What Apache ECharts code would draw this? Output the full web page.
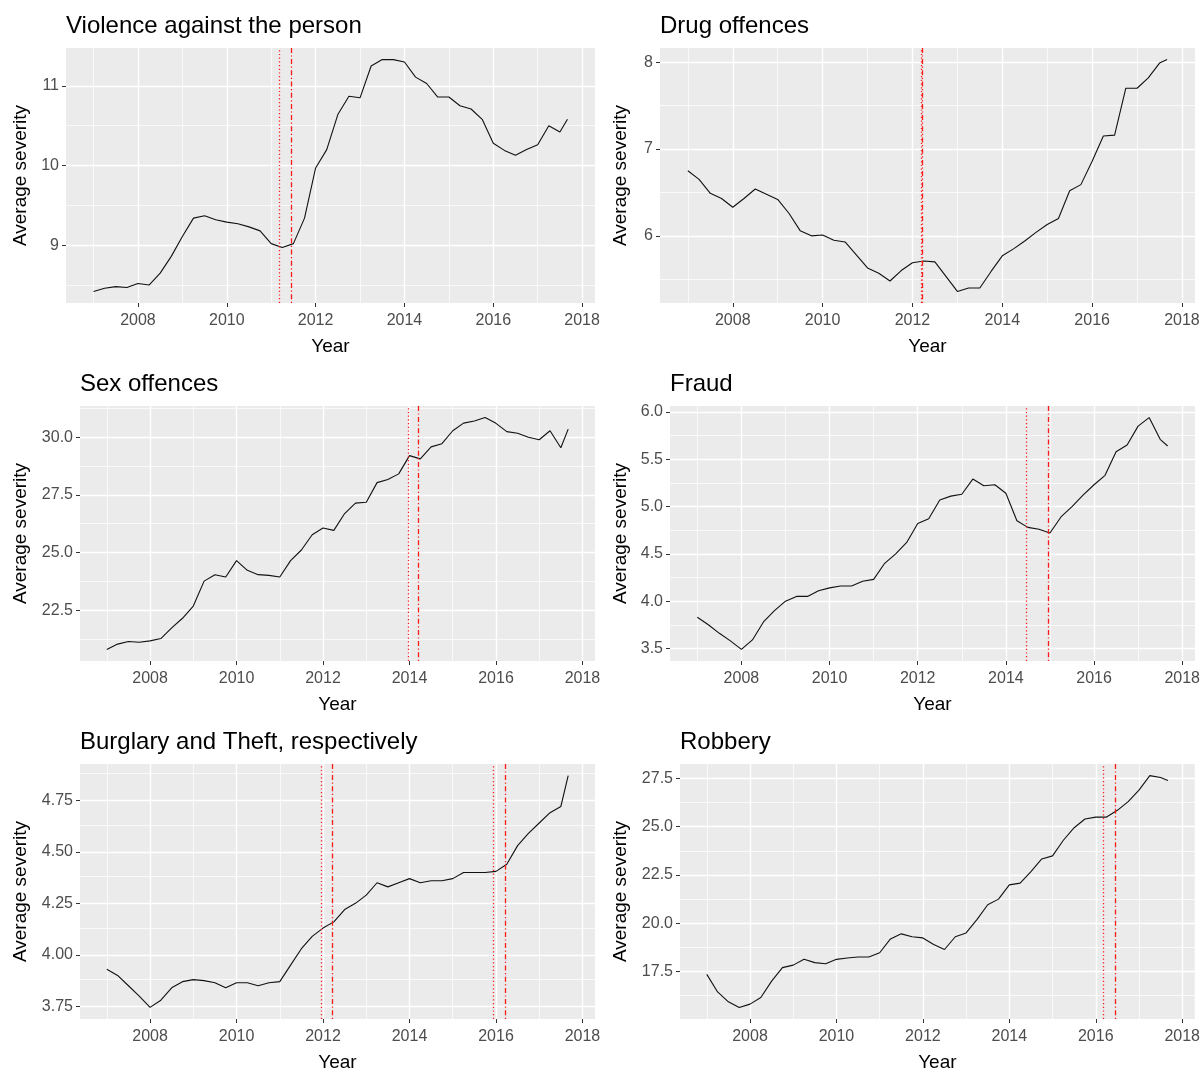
<!DOCTYPE html>
<html>
<head>
<meta charset="utf-8">
<title>Average severity</title>
<script src="https://cdn.jsdelivr.net/npm/echarts@6/dist/echarts.min.js"></script>
<style>
  html, body { margin: 0; padding: 0; background: #fff; }
  #main { width: 1203px; height: 1073px; }
</style>
</head>
<body>
<div id="main"></div>
<script>
// time axis (quarterly readings, last point Sep 2017)
const years = [2007, 2007.25, 2007.5, 2007.75, 2008, 2008.25, 2008.5, 2008.75,
  2009, 2009.25, 2009.5, 2009.75, 2010, 2010.25, 2010.5, 2010.75,
  2011, 2011.25, 2011.5, 2011.75, 2012, 2012.25, 2012.5, 2012.75,
  2013, 2013.25, 2013.5, 2013.75, 2014, 2014.25, 2014.5, 2014.75,
  2015, 2015.25, 2015.5, 2015.75, 2016, 2016.25, 2016.5, 2016.75,
  2017, 2017.25, 2017.5, 2017.67]

const violence = [8.42, 8.46, 8.48, 8.47, 8.52, 8.50, 8.65, 8.86, 9.11, 9.34, 9.37, 9.32,
  9.29, 9.27, 9.23, 9.18, 9.02, 8.97, 9.02, 9.34, 9.97, 10.2, 10.64, 10.87,
  10.85, 11.25, 11.33, 11.33, 11.30, 11.11, 11.03, 10.86, 10.86, 10.75, 10.71, 10.58,
  10.28, 10.19, 10.13, 10.2, 10.26, 10.50, 10.42, 10.58]
const drug = [6.75, 6.65, 6.49, 6.43, 6.33, 6.43, 6.54, 6.48, 6.42, 6.26, 6.06, 6.0,
  6.01, 5.95, 5.93, 5.78, 5.63, 5.57, 5.48, 5.6, 5.69, 5.71, 5.70, 5.53,
  5.36, 5.40, 5.40, 5.59, 5.77, 5.85, 5.94, 6.04, 6.13, 6.20, 6.52, 6.59,
  6.86, 7.15, 7.16, 7.70, 7.70, 7.82, 7.99, 8.03]
const sex = [20.80, 21.03, 21.14, 21.11, 21.17, 21.27, 21.73, 22.15, 22.68, 23.76, 24.04, 23.94,
  24.65, 24.23, 24.04, 24.01, 23.94, 24.65, 25.11, 25.77, 26.06, 25.96, 26.69, 27.14,
  27.18, 28.03, 28.17, 28.41, 29.2, 29.06, 29.58, 29.72, 30.28, 30.61, 30.7, 30.85,
  30.6, 30.24, 30.17, 30.0, 29.89, 30.28, 29.54, 30.35]
const fraud = [3.83, 3.75, 3.66, 3.58, 3.49, 3.59, 3.78, 3.90, 4.0, 4.05, 4.05, 4.11,
  4.14, 4.16, 4.16, 4.21, 4.23, 4.40, 4.50, 4.62, 4.82, 4.87, 5.07, 5.11,
  5.13, 5.29, 5.22, 5.23, 5.14, 4.85, 4.78, 4.76, 4.72, 4.89, 5.0, 5.12,
  5.23, 5.33, 5.58, 5.65, 5.85, 5.94, 5.71, 5.64]
const burglary = [3.93, 3.90, 3.85, 3.80, 3.745, 3.78, 3.84, 3.87, 3.88, 3.875, 3.865, 3.84,
  3.865, 3.865, 3.85, 3.865, 3.87, 3.95, 4.03, 4.09, 4.13, 4.16, 4.22, 4.25,
  4.29, 4.35, 4.33, 4.35, 4.37, 4.35, 4.36, 4.36, 4.37, 4.40, 4.40, 4.40,
  4.405, 4.44, 4.53, 4.59, 4.64, 4.69, 4.72, 4.87]
const robbery = [17.35, 16.44, 15.93, 15.64, 15.81, 16.15, 17.0, 17.7, 17.83, 18.13, 17.96, 17.9,
  18.13, 18.2, 18.25, 18.25, 18.47, 19.19, 19.45, 19.3, 19.24, 18.9, 18.64, 19.3,
  19.5, 20.19, 20.96, 21.25, 21.99, 22.08, 22.68, 23.33, 23.49, 24.3, 24.95, 25.4,
  25.5, 25.5, 25.85, 26.3, 26.9, 27.65, 27.55, 27.4]

// tick labels
const xTicks = [2008, 2010, 2012, 2014, 2016, 2018]
const violenceTicks = [9, 10, 11]
const drugTicks = [6, 7, 8]
const sexTicks = [22.5, 25, 27.5, 30]
const fraudTicks = [3.5, 4, 4.5, 5, 5.5, 6]
const burglaryTicks = [3.75, 4, 4.25, 4.5, 4.75]
const robberyTicks = [17.5, 20, 22.5, 25, 27.5]

// break dates: dotted and dot-dash red lines
const violenceBreaks = { dotted: [2011.17], dotdash: [2011.46] }
const drugBreaks = { dotted: [2012.2], dotdash: [2012.21] }
const sexBreaks = { dotted: [2013.96], dotdash: [2014.21] }
const fraudBreaks = { dotted: [2014.46], dotdash: [2014.97] }
const burglaryBreaks = { dotted: [2011.97, 2015.94], dotdash: [2012.21, 2016.22] }
const robberyBreaks = { dotted: [2016.17], dotdash: [2016.45] }

const panels = [
  { title: 'Violence against the person', values: violence, ticks: violenceTicks, digits: 0, breaks: violenceBreaks, box: [66, 48, 529, 255] },
  { title: 'Drug offences', values: drug, ticks: drugTicks, digits: 0, breaks: drugBreaks, box: [660, 48, 535, 255] },
  { title: 'Sex offences', values: sex, ticks: sexTicks, digits: 1, breaks: sexBreaks, box: [80, 406, 515, 255] },
  { title: 'Fraud', values: fraud, ticks: fraudTicks, digits: 1, breaks: fraudBreaks, box: [670, 406, 525, 255] },
  { title: 'Burglary and Theft, respectively', values: burglary, ticks: burglaryTicks, digits: 2, breaks: burglaryBreaks, box: [80, 764, 515, 255] },
  { title: 'Robbery', values: robbery, ticks: robberyTicks, digits: 1, breaks: robberyBreaks, box: [680, 764, 515, 255] }
]

const FONT = '"Liberation Sans", Arial, Helvetica, sans-serif'
const X_MIN = 2006.38
const X_MAX = 2018.29
const RED = '#ff1a1a'

// minor breaks halfway between the major ones, like ggplot
function minorOf(ticks, lo, hi) {
  const step = ticks[1] - ticks[0]
  const out = [ticks[0] - step / 2]
  ticks.forEach(t => out.push(t + step / 2))
  return out.filter(v => v > lo && v < hi)
}

const grids = []
const xAxes = []
const yAxes = []
const titles = []
const series = []

panels.forEach((p, i) => {
  const [left, top, width, height] = p.box
  const lo0 = Math.min(...p.values)
  const hi0 = Math.max(...p.values)
  const pad = (hi0 - lo0) * 0.05
  const yMin = lo0 - pad
  const yMax = hi0 + pad

  grids.push({
    left: left, top: top, width: width, height: height,
    show: true, backgroundColor: '#EBEBEB', borderWidth: 0
  })

  titles.push({
    text: p.title,
    left: left,
    top: top - 34,
    padding: 0,
    textStyle: { fontFamily: FONT, fontSize: 24, fontWeight: 'normal', color: '#000' }
  })

  xAxes.push({
    gridIndex: i,
    type: 'value',
    min: X_MIN,
    max: X_MAX,
    name: 'Year',
    nameLocation: 'middle',
    nameGap: 34,
    nameTextStyle: { fontFamily: FONT, fontSize: 19, color: '#000' },
    axisLine: { show: false, onZero: false },
    axisTick: { show: true, length: 4, customValues: xTicks, lineStyle: { color: '#333', width: 1 } },
    axisLabel: {
      customValues: xTicks,
      margin: 10,
      fontFamily: FONT, fontSize: 16, color: '#4D4D4D',
      formatter: v => String(Math.round(v))
    },
    splitLine: { show: false }
  })

  yAxes.push({
    gridIndex: i,
    type: 'value',
    min: yMin,
    max: yMax,
    name: 'Average severity',
    nameLocation: 'middle',
    nameGap: left - (i % 2 ? 600 : 0) - 30,
    nameTextStyle: { fontFamily: FONT, fontSize: 19, color: '#000' },
    axisLine: { show: false, onZero: false },
    axisTick: { show: true, length: 4, customValues: p.ticks, lineStyle: { color: '#333', width: 1 } },
    axisLabel: {
      customValues: p.ticks,
      margin: 7,
      fontFamily: FONT, fontSize: 16, color: '#4D4D4D',
      formatter: v => v.toFixed(p.digits)
    },
    splitLine: { show: false }
  })

  // white panel grid, drawn under the data line
  const gridLines = []
  minorOf(xTicks, X_MIN, X_MAX).forEach(v => gridLines.push({ xAxis: v, lineStyle: { color: '#fff', width: 0.7, type: 'solid' } }))
  minorOf(p.ticks, yMin, yMax).forEach(v => gridLines.push({ yAxis: v, lineStyle: { color: '#fff', width: 0.7, type: 'solid' } }))
  xTicks.forEach(v => gridLines.push({ xAxis: v, lineStyle: { color: '#fff', width: 1.4, type: 'solid' } }))
  p.ticks.forEach(v => gridLines.push({ yAxis: v, lineStyle: { color: '#fff', width: 1.4, type: 'solid' } }))

  series.push({
    type: 'line',
    xAxisIndex: i,
    yAxisIndex: i,
    data: [[years[0], p.values[0]]],
    showSymbol: false,
    lineStyle: { opacity: 0 },
    silent: true,
    z: 1,
    markLine: {
      silent: true,
      z: 1,
      animation: false,
      symbol: ['none', 'none'],
      label: { show: false },
      emphasis: { disabled: true },
      data: gridLines
    }
  })

  series.push({
    type: 'line',
    xAxisIndex: i,
    yAxisIndex: i,
    data: years.map((x, k) => [x, p.values[k]]),
    showSymbol: false,
    smooth: false,
    z: 4,
    lineStyle: { color: '#111', width: 1.1 },
    emphasis: { disabled: true },
    markLine: {
      silent: true,
      z: 5,
      animation: false,
      symbol: ['none', 'none'],
      label: { show: false },
      emphasis: { disabled: true },
      data: [
        ...p.breaks.dotted.map(v => ({ xAxis: v, lineStyle: { color: RED, width: 1.3, type: [1.2, 2.5] } })),
        ...p.breaks.dotdash.map(v => ({ xAxis: v, lineStyle: { color: RED, width: 1.3, type: [1.2, 2.5, 5, 2.5] } }))
      ]
    }
  })
})

const chart = echarts.init(document.getElementById('main'))
chart.setOption({
  animation: false,
  backgroundColor: '#fff',
  title: titles,
  grid: grids,
  xAxis: xAxes,
  yAxis: yAxes,
  series: series
})
</script>
</body>
</html>
